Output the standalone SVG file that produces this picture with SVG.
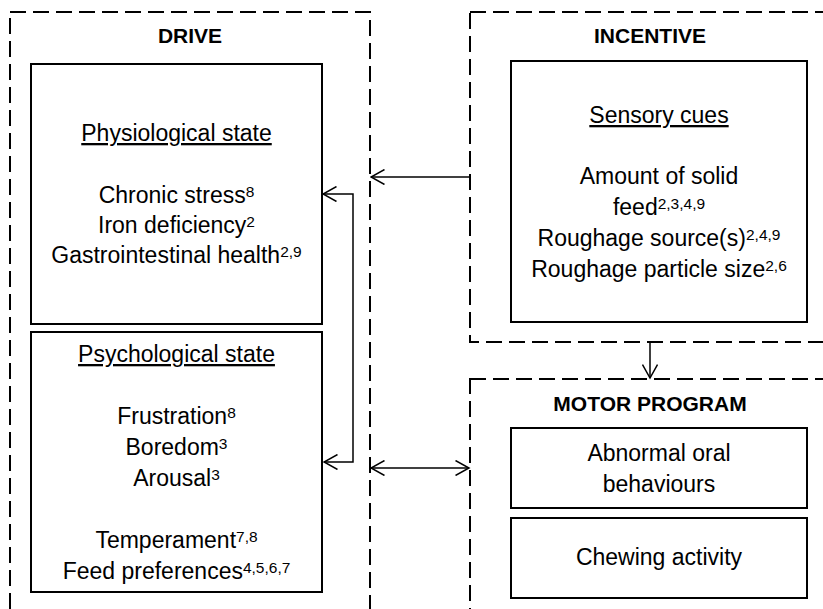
<svg xmlns="http://www.w3.org/2000/svg" width="823" height="609" viewBox="0 0 823 609">
<style>
.bg{fill:#ffffff}
.dash{fill:none;stroke:#000;stroke-width:2;stroke-dasharray:16 7}
.box{fill:#fff;stroke:#000;stroke-width:2}
.con{fill:none;stroke:#000;stroke-width:1.5}
.t{font-family:"Liberation Sans",Arial,sans-serif;font-size:23px;text-anchor:middle;fill:#000}
.h{font-family:"Liberation Sans",Arial,sans-serif;font-size:21px;font-weight:bold;text-anchor:middle;fill:#000}
.u{text-decoration:underline}
.s{font-size:15.5px}
</style>
<defs>
<marker id="arr" viewBox="0 -8 16 16" markerWidth="16" markerHeight="16" refX="14.5" refY="0" markerUnits="userSpaceOnUse" orient="auto-start-reverse">
<path d="M1,-7.5 L14.5,0 L1,7.5" fill="none" stroke="#000" stroke-width="1.5"/>
</marker>
</defs>
<rect class="bg" x="0" y="0" width="823" height="609"/>

<g id="drive">
<rect class="dash" x="10" y="12" width="360" height="640"/>
<text class="h" x="190" y="43">DRIVE</text>
</g>

<g id="physiological">
<rect class="box" x="31" y="64" width="291" height="260"/>
<text class="t u" x="176.5" y="141">Physiological state</text>
<text class="t" x="176.5" y="203">Chronic stress<tspan class="s" dy="-6">8</tspan></text>
<text class="t" x="176.5" y="233">Iron deficiency<tspan class="s" dy="-6">2</tspan></text>
<text class="t" x="176.5" y="263">Gastrointestinal health<tspan class="s" dy="-6">2,9</tspan></text>
</g>

<g id="psychological">
<rect class="box" x="31" y="332" width="291" height="260"/>
<text class="t u" x="176.5" y="362">Psychological state</text>
<text class="t" x="176.5" y="424">Frustration<tspan class="s" dy="-6">8</tspan></text>
<text class="t" x="176.5" y="455">Boredom<tspan class="s" dy="-6">3</tspan></text>
<text class="t" x="176.5" y="486">Arousal<tspan class="s" dy="-6">3</tspan></text>
<text class="t" x="176.5" y="548">Temperament<tspan class="s" dy="-6">7,8</tspan></text>
<text class="t" x="176.5" y="579">Feed preferences<tspan class="s" dy="-6">4,5,6,7</tspan></text>
</g>

<g id="incentive">
<rect class="dash" x="470" y="12" width="380" height="330"/>
<text class="h" x="650" y="43">INCENTIVE</text>
</g>

<g id="sensory">
<rect class="box" x="511" y="61" width="296" height="261"/>
<text class="t u" x="659" y="123">Sensory cues</text>
<text class="t" x="659" y="184">Amount of solid</text>
<text class="t" x="659" y="215">feed<tspan class="s" dy="-6">2,3,4,9</tspan></text>
<text class="t" x="659" y="246">Roughage source(s)<tspan class="s" dy="-6">2,4,9</tspan></text>
<text class="t" x="659" y="277">Roughage particle size<tspan class="s" dy="-6">2,6</tspan></text>
</g>

<g id="motor">
<rect class="dash" x="470" y="379" width="380" height="260"/>
<text class="h" x="650" y="411">MOTOR PROGRAM</text>
</g>

<g id="abnormal">
<rect class="box" x="511" y="428" width="296" height="80"/>
<text class="t" x="659" y="461">Abnormal oral</text>
<text class="t" x="659" y="492">behaviours</text>
</g>

<g id="chewing">
<rect class="box" x="511" y="518" width="296" height="80"/>
<text class="t" x="659" y="565">Chewing activity</text>
</g>

<g id="connectors">
<line class="con" x1="470" y1="177" x2="371" y2="177" marker-end="url(#arr)"/>
<path class="con" d="M323,194 H353 V462 H324" marker-start="url(#arr)" marker-end="url(#arr)"/>
<line class="con" x1="371" y1="468" x2="469" y2="468" marker-start="url(#arr)" marker-end="url(#arr)"/>
<line class="con" x1="650" y1="342" x2="650" y2="378" marker-end="url(#arr)"/>
</g>
</svg>
